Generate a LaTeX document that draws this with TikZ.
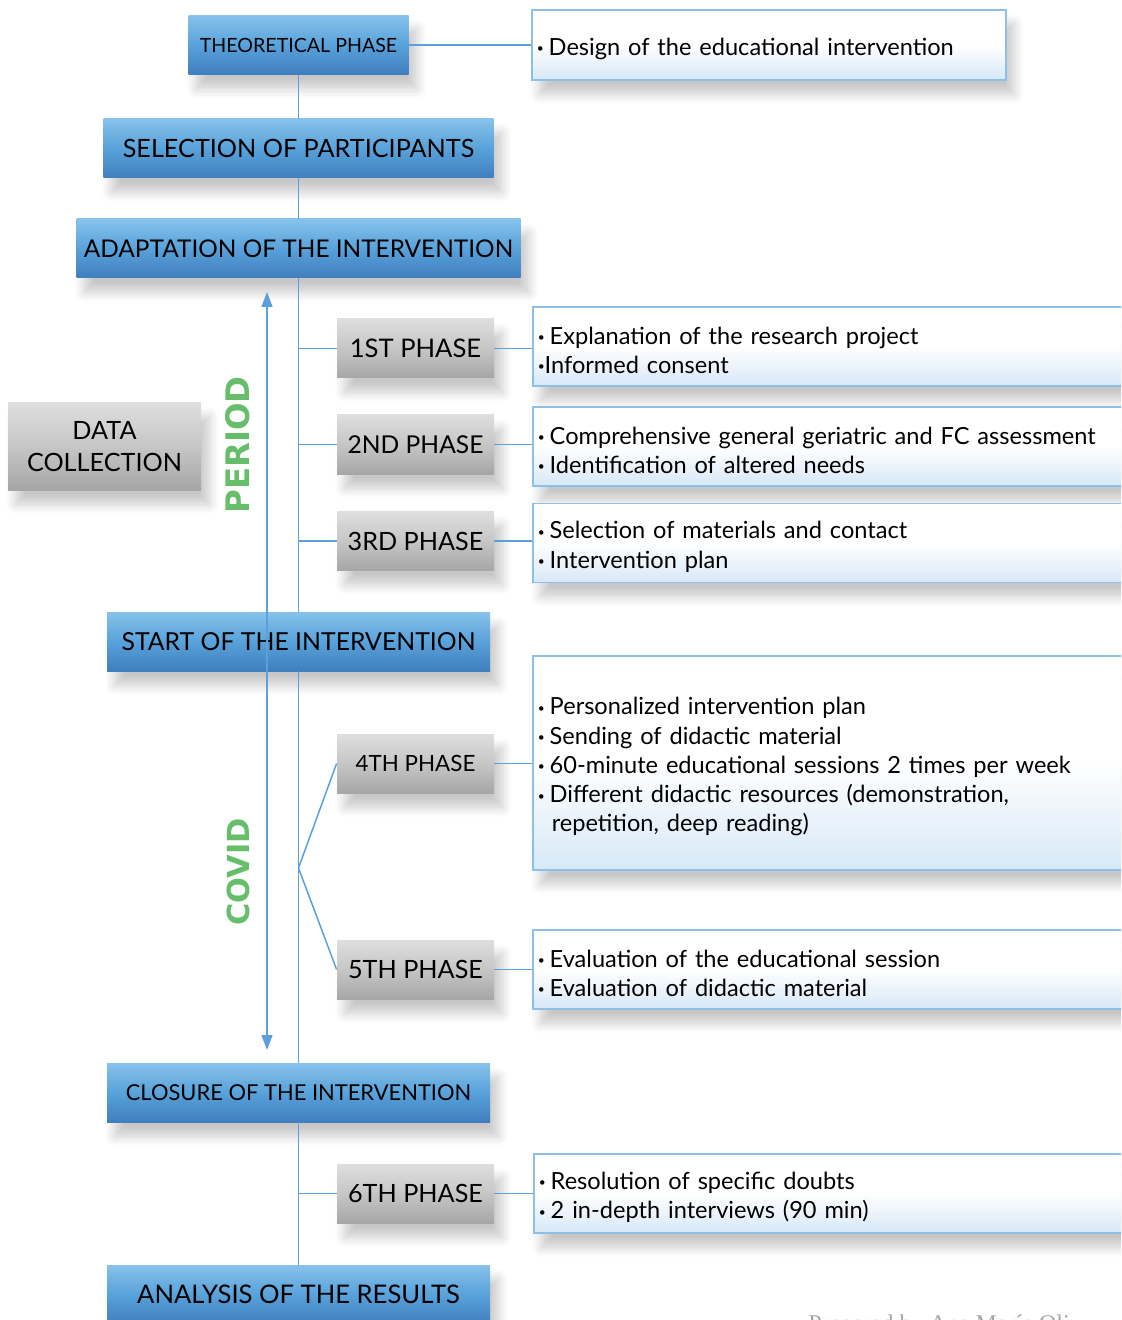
\documentclass[tikz,border=0pt]{standalone}
\usepackage{fontspec}
\setmainfont{Lato}
\newfontfamily\sidefont{DejaVu Sans}
\newfontfamily\notefont{Liberation Serif}
\usetikzlibrary{shadows.blur,arrows.meta}

\definecolor{lineblue}{RGB}{91,160,220}
\definecolor{boxline}{RGB}{140,192,232}
\definecolor{boxfade}{RGB}{214,232,247}
\definecolor{bluetop}{RGB}{135,194,235}
\definecolor{bluemid}{RGB}{88,162,218}
\definecolor{bluebot}{RGB}{64,126,190}
\definecolor{graytop}{RGB}{222,222,222}
\definecolor{graymid}{RGB}{198,198,198}
\definecolor{graybot}{RGB}{166,166,166}
\definecolor{covidgreen}{RGB}{102,190,106}

\newcommand{\itm}{\raisebox{1.3pt}{\fontsize{6}{6}\selectfont\textbullet}\hspace{2.5pt}}
\newcommand{\fs}[1]{\fontsize{#1}{13}\selectfont}

\tikzset{
  boxshadow/.style={blur shadow={shadow xshift=4pt, shadow yshift=-7pt, shadow blur radius=5pt, shadow blur steps=8, shadow opacity=22}},
  bluebox/.style={boxshadow, top color=bluetop, bottom color=bluebot, middle color=bluemid, inner sep=0pt, minimum height=29.5pt, font=\fs{12.5}},
  phasebox/.style={boxshadow, top color=graytop, bottom color=graybot, middle color=graymid, inner sep=0pt, minimum width=78.5pt, minimum height=29.5pt, font=\fs{12.6}},
  textbox/.style={boxshadow, draw=boxline, line width=0.75pt, top color=white, bottom color=boxfade, middle color=white, anchor=west, align=left, inner xsep=2.5pt, inner ysep=0pt, text width=330pt, minimum height=39.5pt, font=\fontsize{11.8}{14.65}\selectfont, execute at begin node={\rule{0pt}{12.5pt}}},
  sidelabel/.style={rotate=90, text=covidgreen},
  conn/.style={draw=lineblue, line width=0.75pt},
}

\begin{document}
\begin{tikzpicture}[x=0.5pt,y=0.5pt,yscale=-1]
\clip (0,0) rectangle (1121,1320);
\useasboundingbox (0,0) rectangle (1121,1320);

% main column
\node[bluebox, minimum width=110pt, font=\fs{9.8}] (theo) at (298.5,45) {THEORETICAL PHASE};
\node[bluebox, minimum width=195pt, font=\fs{12.6}] (sel) at (298.5,148.5) {SELECTION OF PARTICIPANTS};
\node[bluebox, minimum width=222pt, font=\fs{12.2}] (adapt) at (298.5,248.5) {ADAPTATION OF THE INTERVENTION};
\node[bluebox, minimum width=191.5pt, font=\fs{12.4}] (start) at (298.5,641.5) {START OF THE INTERVENTION};
\node[bluebox, minimum width=191.5pt, font=\fs{10.95}] (close) at (298.5,1092.5) {CLOSURE OF THE INTERVENTION};
\node[bluebox, minimum width=191.5pt, font=\fs{12.8}] (analysis) at (298.5,1294.5) {ANALYSIS OF THE RESULTS};

% phases
\node[phasebox, font=\fs{12.8}] (p1) at (415.5,348.5) {1ST PHASE};
\node[phasebox, font=\fs{12.3}] (p2) at (415.5,444.5) {2ND PHASE};
\node[phasebox] (p3) at (415.5,541) {3RD PHASE};
\node[phasebox, font=\fs{11.2}] (p4) at (415.5,763.5) {4TH PHASE};
\node[phasebox] (p5) at (415.5,969.5) {5TH PHASE};
\node[phasebox] (p6) at (415.5,1193.5) {6TH PHASE};
\node[phasebox, minimum width=96.5pt, minimum height=43.5pt, align=center, font=\fontsize{12.6}{16}\selectfont] (dc) at (104.5,446.5) {DATA\\COLLECTION};

% text boxes
\node[textbox, text width=232pt, minimum height=35pt] (t0) at (531,45) {\itm Design of the educational intervention};
\node[textbox] (t1) at (532,346.5) {\itm Explanation of the research project\\\raisebox{1.3pt}{\fontsize{6}{6}\selectfont\textbullet}Informed consent};
\node[textbox] (t2) at (532,446.5) {\itm Comprehensive general geriatric and FC assessment\\\itm Identification of altered needs};
\node[textbox] (t3) at (532,543) {\itm Selection of materials and contact\\\itm Intervention plan};
\node[textbox, minimum height=107pt] (t4) at (532,763) {\itm Personalized intervention plan\\\itm Sending of didactic material\\\itm 60-minute educational sessions 2 times per week\\\itm Different didactic resources (demonstration,\\\hspace{7pt}repetition, deep reading)};
\node[textbox] (t5) at (532,969.5) {\itm Evaluation of the educational session\\\itm Evaluation of didactic material};
\node[textbox] (t6) at (533,1193.5) {\itm Resolution of specific doubts\\\itm 2 in-depth interviews (90 min)};

% side labels
\node[sidelabel, font=\sidefont\bfseries\fs{16.2}] (period) at (238,445) {PERIOD};
\node[sidelabel, font=\sidefont\bfseries\fs{15.2}] (covid) at (238,872) {COVID};

% connectors
\coordinate (br) at (298.5,868);
\coordinate (atop) at (267,292);
\coordinate (abot) at (267,1050);
\draw[conn] (theo) -- (t0);
\draw[conn] (theo) -- (sel);
\draw[conn] (sel) -- (adapt);
\draw[conn] (adapt) -- (start);
\draw[conn] (start) -- (br) -- (close);
\draw[conn] (close) -- (analysis);
\draw[conn] (br) -- (p4.west);
\draw[conn] (br) -- (p5.west);
\foreach \p in {p1,p2,p3,p6}
  \draw[conn] (\p.west -| adapt.south) -- (\p.west);
\foreach \p/\t in {p1/t1,p2/t2,p3/t3,p4/t4,p5/t5,p6/t6}
  \draw[conn] (\p.east) -- (\p.east -| \t.west);
\draw[conn, {Triangle[width=5.5pt,length=7.5pt]}-{Triangle[width=5.5pt,length=7.5pt]}] (atop) -- (abot);

% footer
\node[anchor=north west, inner sep=0pt, text=gray!70, font=\notefont\fontsize{12}{12}\selectfont] (note) at (808,1314) {Prepared by Ana María Oli};
\end{tikzpicture}
\end{document}
